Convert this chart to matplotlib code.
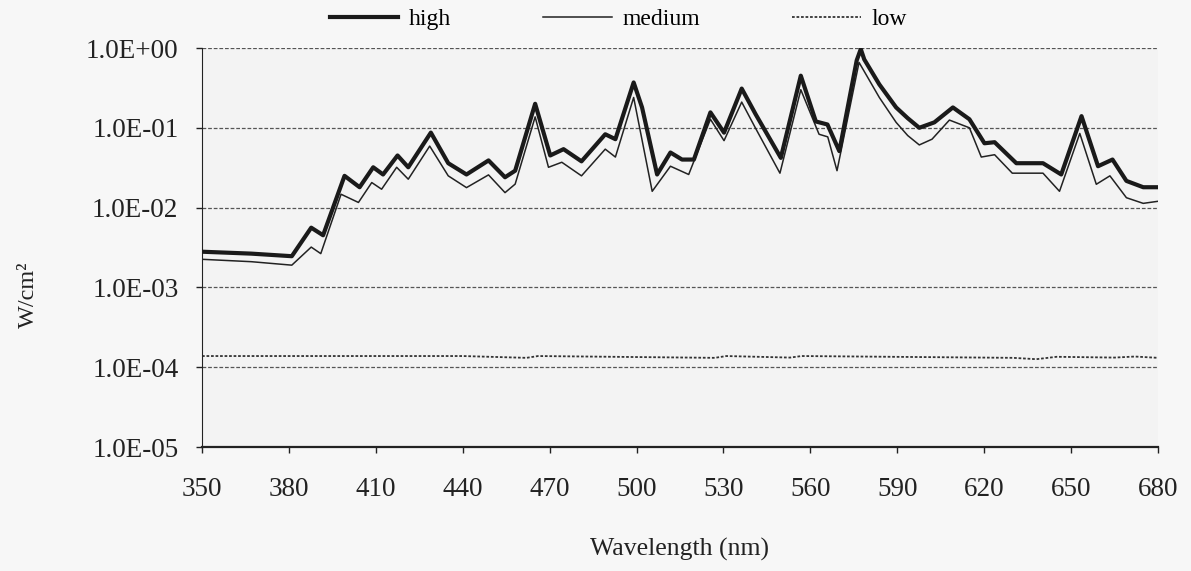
import matplotlib.pyplot as plt
from matplotlib.lines import Line2D
from matplotlib.ticker import FixedLocator, FuncFormatter, NullLocator

# Wavelength (nm) and irradiance (W/cm2)
high_nm = [350, 367, 381, 387.7, 391.8, 399.2, 404.4, 409.1, 412.5, 417.5, 421.2,
           429, 435, 441.3, 448.9, 454.6, 458.1, 465, 470.2, 474.8, 481,
           489.2, 492.7, 499, 501.9, 507.1, 511.7, 515.7, 519.8, 525.5, 530.2,
           536.3, 541.1, 549.8, 556.7, 561.9, 565.9, 570, 576, 577.4, 578.6, 583.8, 589.6,
           593.6, 597.6, 602.8, 609.2, 614.9, 620.1, 623.6, 631.1, 640.3, 646.6, 653.6,
           659.3, 664.3, 669.1, 674.9, 680]
high_val = [0.0028, 0.00265, 0.00246, 0.0056, 0.0045, 0.025, 0.018, 0.032, 0.026, 0.045, 0.032,
            0.087, 0.036, 0.026, 0.039, 0.024, 0.029, 0.20, 0.045, 0.054, 0.038,
            0.083, 0.072, 0.37, 0.18, 0.026, 0.049, 0.040, 0.040, 0.156, 0.087,
            0.31, 0.148, 0.042, 0.45, 0.12, 0.11, 0.051, 0.70, 0.97, 0.72, 0.35, 0.18,
            0.132, 0.10, 0.117, 0.18, 0.128, 0.064, 0.066, 0.036, 0.036, 0.026, 0.14,
            0.033, 0.040, 0.0216, 0.018, 0.018]

med_nm = [350, 367, 381, 387.7, 391, 398, 404, 408.6, 412, 417.2, 421.2,
          428.6, 435, 441.3, 448.9, 454.6, 458.1, 465, 469.6, 474.2, 481,
          489.2, 492.7, 499, 505.4, 511.7, 518, 525.5, 530.2, 536.3, 541,
          549.5, 556.7, 563, 566, 569.2, 576.8, 583.8, 589.6, 593.6, 597.6, 602,
          608, 614.9, 619, 623.6, 629.7, 640.3, 646, 653, 658.7, 663.4,
          669.1, 674.9, 680]
med_val = [0.00225, 0.0021, 0.0019, 0.0032, 0.00265, 0.0147, 0.0116, 0.0206, 0.017, 0.032, 0.0227,
           0.059, 0.025, 0.0178, 0.0257, 0.0154, 0.0197, 0.137, 0.032, 0.037, 0.025,
           0.054, 0.043, 0.24, 0.016, 0.033, 0.026, 0.128, 0.069, 0.21, 0.10,
           0.027, 0.30, 0.083, 0.077, 0.029, 0.66, 0.24, 0.117, 0.08, 0.061, 0.072,
           0.125, 0.10, 0.043, 0.046, 0.027, 0.027, 0.016, 0.085, 0.0196, 0.025,
           0.0133, 0.0113, 0.012]

low_nm = [350, 440, 462, 466, 527, 531, 553, 557, 630, 638, 645, 665, 672, 680]
low_val = [1.38e-4, 1.38e-4, 1.31e-4, 1.38e-4, 1.31e-4, 1.38e-4, 1.32e-4, 1.38e-4,
           1.31e-4, 1.26e-4, 1.35e-4, 1.32e-4, 1.36e-4, 1.31e-4]

x_ticks = [350, 380, 410, 440, 470, 500, 530, 560, 590, 620, 650, 680]
y_ticks = [1e-5, 1e-4, 1e-3, 1e-2, 1e-1, 1e0]

plt.rcParams['font.family'] = ['Liberation Serif', 'DejaVu Serif']

fig = plt.figure(figsize=(11.91, 5.71), dpi=100, facecolor='#f7f7f7')
ax = fig.add_axes([202 / 1191, 1 - 447 / 571, (1158 - 202) / 1191, (447 - 48) / 571])
ax.set_facecolor('#f3f3f3')

# Grid lines at every decade
for v in y_ticks[1:]:
    ax.axhline(v, color='#555555', linestyle=(0, (3, 1.5)), linewidth=0.9, zorder=1)

ax.plot(low_nm, low_val, color='#333333', linestyle=(0, (1.5, 1)), linewidth=1.3, zorder=2)
ax.plot(med_nm, med_val, color='#222222', linewidth=1.1, zorder=3,
        solid_joinstyle='round')
ax.plot(high_nm, high_val, color='#1a1a1a', linewidth=3.0, zorder=4,
        solid_joinstyle='round', solid_capstyle='round')

ax.set_yscale('log')
ax.set_ylim(1e-5, 1.0)
ax.set_xlim(350, 680)
ax.yaxis.set_major_locator(FixedLocator(y_ticks))
ax.yaxis.set_minor_locator(NullLocator())
ax.yaxis.set_major_formatter(FuncFormatter(lambda v, p: f'{v:.1E}'))
ax.xaxis.set_major_locator(FixedLocator(x_ticks))

for s in ['top', 'right']:
    ax.spines[s].set_visible(False)
ax.spines['left'].set_color('#222222')
ax.spines['bottom'].set_color('#222222')
ax.spines['bottom'].set_linewidth(1.6)
ax.tick_params(axis='both', which='major', labelsize=19.5, colors='#222222', length=4, width=1)
ax.tick_params(axis='x', pad=17.5)
ax.tick_params(axis='y', pad=13)

fig.text(680 / 1191, 1 - 549 / 571, 'Wavelength (nm)', fontsize=18.5,
         ha='center', va='center', color='#222222')
fig.text(28 / 1191, 1 - 295 / 571, 'W/cm²', fontsize=17.5, rotation=90,
         ha='center', va='center', color='#222222')

handles = [Line2D([], [], color='#1a1a1a', linewidth=3.0),
           Line2D([], [], color='#222222', linewidth=1.1),
           Line2D([], [], color='#333333', linestyle=(0, (1.5, 1)), linewidth=1.3)]
fig.legend(handles, ['high', 'medium', 'low'], loc='center left',
           bbox_to_anchor=(330 / 1191, 1 - 19 / 571), ncol=3, frameon=False,
           fontsize=17, handlelength=2.9, handletextpad=0.45, columnspacing=3.9,
           borderpad=0, borderaxespad=0)

plt.savefig('out.png', dpi=100, facecolor=fig.get_facecolor())
